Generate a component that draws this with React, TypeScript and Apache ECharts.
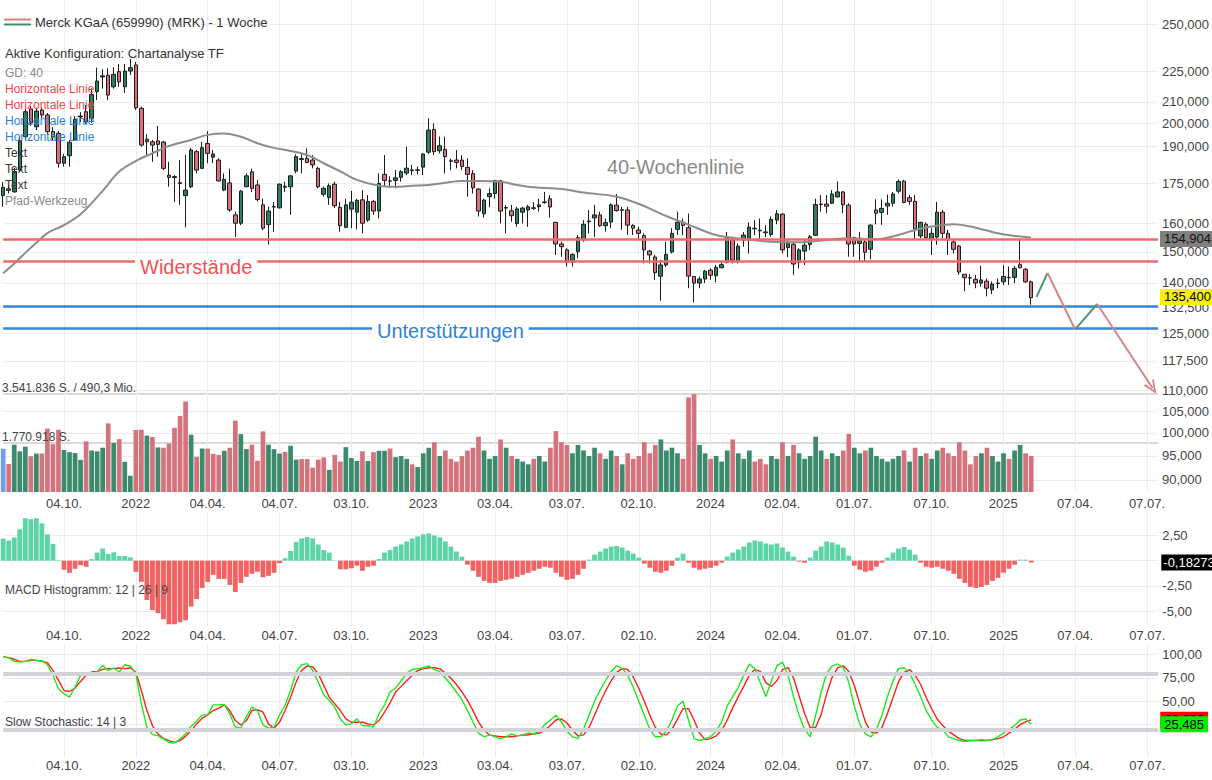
import React, { useEffect, useRef } from 'react';
import * as echarts from 'echarts';

// ---------- DATA ----------
const FIRST_WEEK_UTC = Date.UTC(2021, 6, 19); // Monday of the first weekly candle
const WEEK_COUNT = 210; // candles + empty weeks to the right edge

const TICK_LABELS: Record<string, string> = {
  '2021-10-04': '04.10.', '2022-01-03': '2022', '2022-04-04': '04.04.', '2022-07-04': '04.07.',
  '2022-10-03': '03.10.', '2023-01-02': '2023', '2023-04-03': '03.04.', '2023-07-03': '03.07.',
  '2023-10-02': '02.10.', '2024-01-01': '2024', '2024-04-01': '02.04.', '2024-07-01': '01.07.',
  '2024-10-07': '07.10.', '2025-01-06': '2025', '2025-04-07': '07.04.', '2025-07-07': '07.07.',
};

const PRICE_TICKS = [90, 95, 100, 105, 110, 117.5, 125, 132.5, 140, 150, 160, 175, 190, 200, 210, 225, 250];
const MACD_GRID = [-5, -2.5, 0, 2.5];
const MACD_LABELS = [-5, -2.5, 2.5];
const STOCH_GRID = [25, 50, 75, 100];
const STOCH_LABELS = [50, 75, 100];
const STOCH_BANDS = [80, 20];

// weekly candles: [open, close, low, high]
const OHLC: number[][] = [
  [170.2,173.4,166.0,175.4],[172.8,172.2,171.0,174.3],[171.6,179.6,171.4,181.1],[180.2,192.4,179.5,194.2],
  [194.2,205.4,192.8,206.7],[206.7,200.3,199.0,208.0],[198.6,205.7,197.1,207.2],[206.2,203.9,202.5,207.5],
  [203.9,196.4,195.0,204.8],[196.5,194.0,192.4,198.4],[195.7,183.0,181.2,196.7],[183.0,185.7,181.6,186.8],
  [186.1,191.8,181.6,192.8],[192.8,201.9,192.4,203.4],[203.0,203.4,200.7,205.2],[205.4,200.8,199.8,208.5],
  [202.4,213.5,200.3,216.5],[214.8,220.0,210.9,226.7],[222.0,222.6,216.3,225.9],[222.9,213.2,210.9,226.4],
  [217.2,223.3,216.3,226.9],[224.7,219.6,217.3,228.6],[217.2,225.0,214.2,228.6],[225.0,226.7,223.0,231.1],
  [228.1,207.2,206.2,229.6],[207.0,190.6,189.9,207.7],[192.0,193.1,186.4,195.3],[192.0,190.6,183.6,192.8],
  [192.4,190.9,185.7,198.9],[191.9,180.9,180.2,192.4],[178.2,177.3,173.6,183.6],[177.6,177.2,167.8,178.2],
  [175.2,174.9,166.7,184.3],[170.2,172.3,158.5,186.4],[173.6,188.5,173.1,189.4],[187.8,180.2,178.9,188.5],
  [180.9,189.5,180.9,192.0],[191.3,187.1,183.0,196.6],[185.5,186.8,183.0,188.5],[184.3,175.9,175.6,185.0],
  [172.3,176.5,171.9,178.9],[175.1,164.8,164.2,180.8],[163.0,160.0,155.1,164.2],[160.0,171.9,159.3,172.3],
  [173.6,177.9,173.6,178.9],[179.5,173.0,171.6,180.8],[174.3,168.7,168.0,176.3],[166.7,158.2,157.5,169.1],
  [159.5,164.4,152.5,166.0],[165.9,166.0,157.0,167.8],[165.6,174.6,165.4,174.9],[173.4,173.8,171.6,175.6],
  [173.6,177.9,163.0,178.2],[179.8,185.7,178.9,186.7],[184.5,184.9,178.9,187.1],[185.0,183.3,183.0,189.2],
  [184.3,182.3,180.9,186.4],[180.9,173.6,173.0,181.6],[170.7,173.0,169.8,173.6],[169.5,174.0,166.7,174.9],
  [174.6,166.4,165.5,175.6],[165.8,159.1,157.0,167.8],[158.5,166.7,158.2,169.0],[165.1,167.7,158.2,172.0],
  [164.0,168.4,157.8,169.0],[168.6,160.0,156.4,172.3],[161.1,168.0,160.5,170.4],[168.0,164.4,163.0,168.5],
  [164.4,174.9,161.7,178.9],[178.5,176.1,173.6,186.4],[175.8,175.9,173.2,177.7],[176.1,177.1,173.0,180.2],
  [177.3,179.6,175.6,180.2],[179.0,181.0,178.2,189.9],[180.0,180.3,178.2,182.3],[180.1,180.3,178.5,181.6],
  [181.4,186.8,178.2,187.2],[187.6,197.1,186.8,202.4],[197.4,187.8,186.4,200.1],[188.2,190.3,187.1,194.2],
  [188.8,185.7,178.9,194.2],[183.8,184.0,180.2,185.0],[184.3,183.3,180.9,188.5],[184.3,181.7,180.2,186.4],
  [181.3,178.5,169.8,185.0],[178.8,173.2,171.0,180.2],[172.7,164.4,162.4,173.0],[163.4,168.5,162.0,169.0],
  [169.8,171.0,165.8,173.0],[171.0,176.0,169.0,176.3],[175.9,164.4,159.9,176.3],[165.5,165.7,156.4,166.7],
  [164.5,162.7,160.5,166.7],[159.9,165.2,158.7,166.0],[164.0,165.5,159.9,166.0],[164.8,166.0,158.7,166.7],
  [165.4,165.6,164.8,167.8],[166.0,166.7,164.2,169.0],[167.6,167.8,167.1,171.6],[169.0,165.9,162.0,170.4],
  [160.3,152.7,149.0,160.5],[152.7,151.8,148.4,153.5],[150.7,146.6,145.2,151.3],[146.6,149.2,145.2,149.5],
  [150.1,154.9,147.9,155.8],[154.1,159.6,153.5,161.1],[160.5,160.8,156.4,164.8],[161.9,163.0,155.2,166.7],
  [163.0,159.1,158.7,164.2],[159.1,160.2,157.0,161.7],[160.4,166.7,158.2,167.3],[166.6,164.6,164.2,170.8],
  [164.7,164.9,157.6,166.0],[164.8,159.3,155.8,166.0],[159.2,158.2,155.8,159.6],[157.6,156.4,154.1,158.7],
  [155.6,150.7,146.2,156.4],[150.3,149.0,146.2,150.7],[148.3,143.2,140.9,149.0],[142.1,145.7,134.5,147.3],
  [145.7,149.2,145.0,153.5],[150.0,156.4,149.5,158.2],[157.8,160.3,155.8,164.2],[160.3,159.2,155.8,161.7],
  [158.4,142.1,138.3,163.5],[142.0,139.9,134.0,142.0],[139.9,141.2,138.3,142.0],[141.2,143.7,139.9,144.1],
  [144.0,142.4,140.9,144.6],[142.2,144.9,140.2,145.7],[144.8,145.8,144.6,146.8],[146.6,154.9,146.2,156.9],
  [154.1,147.3,146.2,155.2],[146.8,152.0,146.2,152.9],[154.1,155.8,151.8,156.9],[154.5,158.6,149.5,160.3],
  [158.0,158.2,155.8,161.1],[157.3,157.5,154.1,161.7],[156.6,156.9,155.1,159.3],[156.0,161.4,155.2,162.4],
  [161.1,163.4,159.6,164.8],[163.3,150.7,149.5,163.6],[151.5,153.2,148.3,154.1],[152.6,146.0,142.5,153.2],
  [146.5,150.7,144.6,151.3],[150.3,152.3,145.7,154.1],[152.5,155.2,150.7,155.8],[155.7,166.8,155.5,169.0],
  [166.8,167.0,164.2,170.4],[167.0,166.2,163.6,170.4],[167.3,170.8,167.0,172.3],[169.7,171.6,169.5,175.7],
  [171.6,166.7,163.6,172.0],[166.6,152.7,148.4,167.3],[154.9,152.7,148.4,155.2],[152.9,154.3,146.8,156.9],
  [153.4,149.9,146.8,154.1],[150.9,159.3,147.6,159.6],[164.8,163.6,159.6,168.8],[163.9,165.4,159.4,168.8],
  [166.3,167.3,163.0,170.6],[167.3,170.8,166.0,171.6],[171.9,175.7,171.0,176.5],[175.8,167.6,167.3,176.3],
  [169.4,168.0,166.7,170.4],[168.0,157.9,154.1,170.4],[155.5,160.3,154.7,160.5],[159.6,154.9,154.1,160.3],
  [154.4,156.4,149.0,158.2],[155.1,164.0,152.4,167.8],[164.0,156.4,154.7,164.8],[156.4,154.1,149.0,157.6],
  [153.4,150.9,149.5,154.4],[152.0,143.4,142.5,152.4],[142.7,141.6,137.3,142.7],[141.6,141.5,139.3,142.7],
  [141.1,139.9,138.3,142.5],[139.9,140.9,138.8,145.5],[140.5,138.3,135.8,141.4],[137.8,139.6,136.5,140.4],
  [139.8,139.9,138.3,141.4],[140.3,142.0,139.3,145.7],[141.6,141.7,139.3,145.2],[141.7,144.6,139.9,145.4],
  [145.8,144.8,144.6,154.3],[144.3,140.3,139.9,144.7],[140.3,135.4,133.3,140.7],
];

// 40-week moving average, read at [week index, value]
const MA40: number[][] = [
  [0,143.0],[2,146.2],[4,149.7],[6,153.1],[8,156.5],[11,159.3],[14,163.2],[18,172.0],[21,179.6],
  [24,183.9],[27,187.1],[30,190.2],[34,192.8],[37,195.0],[40,195.6],[43,194.2],[46,191.4],[49,189.4],
  [52,188.1],[55,186.4],[58,183.0],[61,179.7],[64,176.3],[68,174.0],[71,173.6],[74,174.0],[77,174.3],
  [80,175.2],[83,175.9],[86,175.9],[90,175.6],[93,174.3],[96,173.4],[101,172.7],[105,171.4],[111,169.8],
  [115,167.1],[120,162.6],[124,159.5],[129,155.8],[134,154.4],[139,153.5],[144,153.3],[149,154.1],
  [153,154.7],[158,154.4],[162,155.8],[165,157.6],[168,158.8],[172,159.6],[176,158.4],[180,156.4],
  [183,155.5],[186,154.904],
];

// weekly volume, million shares
const VOLUME = [
  1.56,1.01,1.71,1.47,1.64,1.29,1.39,1.39,2.29,1.73, 2.25,1.52,1.44,1.41,1.16,1.83,1.50,1.47,1.60,2.48,
  1.77,1.91,1.09,0.59,2.24,2.25,2.04,1.99,1.61,1.60, 1.75,2.32,2.75,3.27,2.07,1.27,1.57,1.57,1.38,1.34,
  1.49,1.60,2.58,2.09,1.55,1.71,1.13,2.19,1.71,1.55, 1.39,1.45,1.67,1.17,1.19,1.19,0.88,1.17,1.25,0.80,
  1.34,1.10,1.62,1.23,1.12,1.47,1.12,1.44,1.49,1.49, 1.57,1.26,1.3,1.2,1.0,0.9,1.4,1.6,1.8,1.3,
  1.5,1.2,1.1,1.3,1.5,1.6,2.0,1.5,1.2,1.3, 1.9,1.6,1.3,1.2,1.1,1.0,1.2,1.3,1.1,1.6,
  2.2,1.8,1.7,1.4,1.7,1.5,1.3,1.6,1.4,1.2, 1.5,1.3,1.0,1.4,1.2,1.3,1.8,1.4,1.7,1.9,
  1.5,1.6,1.4,1.2,3.42,3.541836,1.7,1.4,1.2,1.3, 1.1,1.5,1.9,1.4,1.2,1.5,1.1,1.2,1.0,1.3,
  1.2,1.8,1.3,1.7,1.4,1.2,1.3,2.0,1.5,1.2, 1.4,1.3,1.5,2.1,1.6,1.4,1.5,1.6,1.3,1.2,
  1.1,1.2,1.3,1.5,1.1,1.6,1.3,1.4,1.2,1.5, 1.6,1.4,1.3,1.8,1.5,1.0,1.3,1.4,1.6,1.3,
  1.1,1.4,1.2,1.5,1.7,1.4,1.3,
];
const VOLUME_MAX = 3.541836;

const MACD_HIST = [
  2.2,2.0,2.3,3.1,4.2,4.1,4.2,3.7,2.6,1.65, 0.05,-0.9,-1.2,-0.8,-0.45,-0.6,0.15,0.8,1.2,0.66,
  0.83,0.47,0.47,0.34,-1.1,-2.1,-3.9,-4.9,-5.2,-5.8, -6.3,-6.3,-6.1,-5.9,-4.55,-3.8,-2.7,-2.1,-1.4,-1.8,
  -1.8,-2.4,-3.1,-2.2,-1.6,-1.3,-1.1,-1.65,-1.5,-1.2, -0.25,0.24,0.96,1.85,2.2,2.35,2.2,1.6,1.06,0.8,
  0.02,-0.85,-0.85,-0.75,-0.5,-1.0,-0.6,-0.5,0.17,0.8, 1.06,1.4,1.6,1.9,2.2,2.4,2.6,2.7,2.5,2.3,
  1.9,1.4,0.9,0.4,-0.4,-1.0,-1.6,-2.0,-2.2,-2.2, -2.0,-1.9,-1.8,-1.6,-1.4,-1.2,-1.0,-0.8,-0.6,-0.7,
  -1.2,-1.6,-1.9,-1.8,-1.4,-0.8,0.1,0.6,0.9,1.2, 1.4,1.45,1.3,1.0,0.7,0.3,-0.3,-0.7,-1.1,-1.2,
  -1.0,-0.5,0.3,0.7,-0.2,-0.7,-0.9,-0.8,-0.7,-0.5, -0.2,0.4,0.8,1.1,1.4,1.8,2.0,1.9,1.7,1.6,
  1.7,1.3,0.9,0.4,-0.1,-0.2,0.3,1.0,1.4,1.9, 1.8,1.6,1.3,0.5,-0.5,-0.9,-1.1,-1.0,-0.6,-0.2,
  0.3,0.8,1.2,1.35,1.1,0.6,-0.2,-0.6,-0.7,-0.6, -0.8,-1.0,-1.3,-1.8,-2.2,-2.6,-2.7,-2.6,-2.4,-2.0,
  -1.7,-1.2,-0.8,-0.4,0.1,0.1,-0.18273,
];

const STOCH_K = [
  97.5,96.8,92.8,92.1,92.8,95.0,93.5,93.5,89.2,77.8, 63.4,58.0,54.5,65.3,77.8,79.6,80.3,81.4,88.5,83.1,
  85.7,81.4,89.2,87.8,79.6,47.3,22.3,14.3,13.2,9.7, 6.1,5.4,9.7,15.0,23.3,28.7,35.5,35.5,46.2,46.2,
  46.6,36.6,22.3,21.2,33.7,43.8,40.1,24.7,21.2,22.3, 35.5,45.5,61.6,81.4,89.2,90.3,83.1,70.6,57.0,50.9,
  43.8,31.2,24.7,25.8,31.2,24.0,24.0,22.3,36.6,46.2, 59.9,64.2,72,80,84,85,86,88,84,82,
  75,68,60,52,40,28,16,12,14,12, 10,12,15,13,14,16,15,18,25,30,
  35,28,18,12,10,20,35,50,62,72, 82,88,85,78,65,50,35,20,12,12,
  18,30,45,50,30,10,8,10,12,18, 28,45,55,65,78,90,85,70,55,72,
  88,92,78,55,35,20,12,35,60,80, 88,90,86,70,45,25,15,12,20,35,
  55,72,85,86,80,68,55,40,30,22, 20,12,10,8,7,8,8,9,8,9,
  12,16,20,24,30,31,25.485,
];

const STOCH_D = [
  97.5,96.8,95.0,92.8,92.8,93.9,93.9,92.8,91.4,83.1, 72.4,61.6,60.5,64.2,71.3,77.8,81.4,82.1,84.2,85.0,
  85.0,85.7,85.0,85.7,81.4,61.6,40.1,24.0,15.0,10.4, 7.9,6.1,7.9,12.5,18.6,25.8,31.9,35.5,40.1,42.6,
  46.2,40.1,29.4,24.7,29.4,40.1,41.1,38.3,25.8,21.2, 27.6,40.1,54.4,70.6,83.1,87.8,86.7,79.6,67.1,54.4,
  47.3,40.1,31.2,27.6,27.6,27.6,25.8,24.7,29.4,38.3, 48.4,59.9,66,72,78,83,85,86,86,85,
  80,75,68,60,51,40,28,19,14,13, 12,12,12,13,14,14,15,16,19,24,
  30,31,27,19,13,14,22,35,49,61, 72,81,85,84,76,64,50,35,22,15,
  14,20,31,42,42,30,16,9,10,13, 19,30,43,55,66,78,84,82,70,66,
  72,84,86,75,56,37,22,22,36,58, 76,86,88,82,67,47,28,17,16,22,
  37,54,71,81,84,78,68,54,42,31, 24,18,14,10,8,8,8,8,8,9,
  10,12,16,20,25,28,30.2,
];

// drawn horizontal lines and the path drawing
const RESISTANCE = [155.0, 146.4];
const SUPPORT = [133.5, 126.1];
const PATH_POINTS: [string, number][] = [
  ['2025-02-17', 135.6], ['2025-03-03', 143.1], ['2025-04-07', 126.1], ['2025-05-05', 133.5], ['2025-07-14', 110.6],
];
const PATH_COLORS = ['#4c9a7b', '#d8848b', '#4c9a7b', '#d8848b'];

// ---------- HELPERS ----------
const FONT = "'Liberation Sans', Arial, Helvetica, sans-serif";
const ln = Math.log;
const comma = (v: number, d: number) => v.toFixed(d).replace('.', ',');
const dots = (n: number) => String(Math.round(n)).replace(/\B(?=(\d{3})+(?!\d))/g, '.');
const HIDDEN = { color: 'rgba(0,0,0,0)', width: 0, type: 'solid' };

const WEEKS: string[] = Array.from({ length: WEEK_COUNT }, (_, i) =>
  new Date(FIRST_WEEK_UTC + i * 7 * 86400000).toISOString().slice(0, 10));

const GRID_LEFT = 3.2;
const GRID_RIGHT = 53.7;
const PX_PER_LN = 446.3; // price pane: pixels per unit of ln(price)
const LN_TOP = ln(250) + 24 / PX_PER_LN;
const LN_BOTTOM = LN_TOP - 492 / PX_PER_LN;

function buildOption(): any {
  const isTick = (_i: number, v: string) => !!TICK_LABELS[v];
  const xAxis = (gridIndex: number, show: boolean, margin: number) => ({
    type: 'category', gridIndex, data: WEEKS, boundaryGap: false,
    axisLine: { show: false }, axisTick: { show: false },
    axisLabel: {
      show, interval: isTick, formatter: (v: string) => TICK_LABELS[v] || '',
      color: '#444', fontSize: 13, fontFamily: FONT, margin,
    },
    splitLine: { show, interval: isTick, lineStyle: { color: '#ececec', width: 1 } },
  });
  const yLabel = (custom: number[], fmt: (v: number) => string) => ({
    customValues: custom, formatter: fmt, color: '#444', fontSize: 13, fontFamily: FONT, margin: 4,
  });
  const boxLabel = (bg: string, color: string, txt: string, distance = 2) => ({
    show: true, position: 'end', distance, formatter: () => txt,
    backgroundColor: bg, color, padding: [2, 4, 1, 4], fontSize: 13, fontFamily: FONT,
  });

  const priceLns = PRICE_TICKS.map(ln);
  const lastClose = OHLC[OHLC.length - 1][1];
  const lastMa = MA40[MA40.length - 1][1];
  const lastMacd = MACD_HIST[MACD_HIST.length - 1];
  const lastK = STOCH_K[STOCH_K.length - 1];
  const lastD = STOCH_D[STOCH_D.length - 1];
  const maData: (number | null)[] = WEEKS.map(() => null);
  MA40.forEach(([i, v]) => { maData[i] = ln(v); });

  const chevron = 'path://M5,0 L10,11 L8.4,11 L5,3.6 L1.6,11 L0,11 Z';
  const pathLines = PATH_POINTS.slice(1).map((pt, j) => {
    const style = { color: PATH_COLORS[j], width: 2, type: 'solid' };
    return [
      { coord: [PATH_POINTS[j][0], ln(PATH_POINTS[j][1])], symbol: 'none', lineStyle: style },
      { coord: [pt[0], ln(pt[1])], symbol: j === PATH_POINTS.length - 2 ? chevron : 'none', symbolSize: [12, 14], lineStyle: style },
    ];
  });

  const text = (x: number, y: number, t: string, size: number, fill: string, extra: any = {}) => ({
    type: 'text', x, y, z: 100,
    style: { text: t, fontSize: size, fontFamily: FONT, fill, verticalAlign: 'middle', ...extra },
  });

  return {
    animation: false,
    backgroundColor: '#ffffff',
    grid: [
      { left: GRID_LEFT, right: GRID_RIGHT, top: 0, height: 492 },
      { left: GRID_LEFT, right: GRID_RIGHT, top: 394, height: 98 },
      { left: GRID_LEFT, right: GRID_RIGHT, top: 512, height: 114 },
      { left: GRID_LEFT, right: GRID_RIGHT, top: 645, height: 112 },
    ],
    xAxis: [xAxis(0, true, 5), xAxis(1, false, 0), xAxis(2, true, 3), xAxis(3, true, 2)],
    yAxis: [
      {
        type: 'value', gridIndex: 0, position: 'right', min: LN_BOTTOM, max: LN_TOP,
        axisLine: { show: false }, axisTick: { show: false, customValues: priceLns },
        axisLabel: yLabel(priceLns, (v) => comma(Math.exp(v), 3)),
        splitLine: { show: true, lineStyle: { color: '#ececec' } },
      },
      {
        type: 'value', gridIndex: 1, position: 'right', min: 0, max: VOLUME_MAX,
        axisLine: { show: false }, axisTick: { show: false, customValues: [VOLUME_MAX / 2, VOLUME_MAX] },
        axisLabel: { show: false },
        splitLine: { show: true, lineStyle: { color: '#dadada', width: 2 } },
      },
      {
        type: 'value', gridIndex: 2, position: 'right', min: -6.47, max: 4.82,
        axisLine: { show: false }, axisTick: { show: false, customValues: MACD_GRID },
        axisLabel: yLabel(MACD_LABELS, (v) => comma(v, 2)),
        splitLine: { show: true, lineStyle: { color: '#ececec' } },
      },
      {
        type: 'value', gridIndex: 3, position: 'right', min: -9.64, max: 110.3,
        axisLine: { show: false }, axisTick: { show: false, customValues: STOCH_GRID },
        axisLabel: yLabel(STOCH_LABELS, (v) => comma(v, 2)),
        splitLine: { show: true, lineStyle: { color: '#ececec' } },
      },
    ],
    series: [
      {
        type: 'candlestick', xAxisIndex: 0, yAxisIndex: 0, clip: false, barWidth: 4,
        data: OHLC.map(([o, c, l, h]) => [ln(o), ln(c), ln(l), ln(h)]),
        itemStyle: { color: '#2f7d5c', color0: '#d6717b', borderColor: '#1c1c1c', borderColor0: '#1c1c1c', borderWidth: 1 },
        markLine: {
          silent: true, symbol: 'none', label: { show: false },
          data: [
            ...RESISTANCE.map((p) => ({ yAxis: ln(p), lineStyle: { color: '#f16a6a', width: 2.5, type: 'solid' } })),
            ...SUPPORT.map((p) => ({ yAxis: ln(p), lineStyle: { color: '#3486d6', width: 2.5, type: 'solid' } })),
            ...pathLines,
          ],
        },
      },
      {
        type: 'line', xAxisIndex: 0, yAxisIndex: 0, data: maData, connectNulls: true, smooth: 0.35,
        symbol: 'none', lineStyle: { color: '#8c8c8c', width: 2 },
        markLine: {
          silent: true, symbol: 'none',
          data: [
            { yAxis: ln(lastMa), lineStyle: HIDDEN, label: boxLabel('#7f7f7f', '#111', comma(lastMa, 3)) },
            { yAxis: ln(lastClose), lineStyle: HIDDEN, label: boxLabel('#f7f000', '#000', comma(lastClose, 3)) },
          ],
        },
      },
      {
        type: 'bar', xAxisIndex: 1, yAxisIndex: 1, clip: false, barWidth: 4.7,
        data: VOLUME.map((v, i) => ({
          value: v,
          itemStyle: { color: i === 0 ? '#6f9fe6' : OHLC[i][1] >= OHLC[i - 1][1] ? '#3a8a6b' : '#d5737d' },
        })),
      },
      {
        type: 'bar', xAxisIndex: 2, yAxisIndex: 2, clip: false, barWidth: 4.8,
        data: MACD_HIST.map((v) => ({ value: v, itemStyle: { color: v >= 0 ? '#5dd3a8' : '#f36262' } })),
        markLine: {
          silent: true, symbol: 'none',
          data: [{ yAxis: lastMacd, lineStyle: HIDDEN, label: { ...boxLabel('#000', '#fff', comma(lastMacd, 5), 3), padding: [2, 2, 1, 2] } }],
        },
      },
      {
        type: 'line', xAxisIndex: 3, yAxisIndex: 3, data: [], z: 1,
        markLine: {
          silent: true, symbol: 'none', label: { show: false },
          data: STOCH_BANDS.map((v) => ({ yAxis: v, lineStyle: { color: '#d3d3d7', width: 4, type: 'solid' } })),
        },
      },
      {
        type: 'line', xAxisIndex: 3, yAxisIndex: 3, data: STOCH_D, symbol: 'none',
        lineStyle: { color: '#ff1f1f', width: 1.4 },
        markLine: {
          silent: true, symbol: 'none',
          data: [{ yAxis: lastD, lineStyle: HIDDEN, label: boxLabel('#ff0000', '#000', comma(lastD, 3)) }],
        },
      },
      {
        type: 'line', xAxisIndex: 3, yAxisIndex: 3, data: STOCH_K, symbol: 'none',
        lineStyle: { color: '#1ee81e', width: 1.4 },
        markLine: {
          silent: true, symbol: 'none',
          data: [{ yAxis: lastK, lineStyle: HIDDEN, label: boxLabel('#00ee00', '#000', comma(lastK, 3)) }],
        },
      },
    ],
    graphic: [
      { type: 'line', z: 100, shape: { x1: 4, y1: 19.5, x2: 31, y2: 19.5 }, style: { stroke: '#e07d7d', lineWidth: 2 } },
      { type: 'line', z: 100, shape: { x1: 4, y1: 24.5, x2: 31, y2: 24.5 }, style: { stroke: '#3e8e6e', lineWidth: 2 } },
      text(35, 22, 'Merck KGaA (659990) (MRK) - 1 Woche', 13, '#333'),
      text(5, 53, 'Aktive Konfiguration: Chartanalyse TF', 13, '#333'),
      text(5, 73, 'GD: 40', 12, '#8a8a8a'),
      text(5, 89, 'Horizontale Linie', 12, '#f04848'),
      text(5, 105, 'Horizontale Linie', 12, '#f04848'),
      text(5, 121, 'Horizontale Linie', 12, '#2c7fd6'),
      text(5, 137, 'Horizontale Linie', 12, '#2c7fd6'),
      text(5, 153, 'Text', 12, '#333'),
      text(5, 169, 'Text', 12, '#333'),
      text(5, 185, 'Text', 12, '#333'),
      text(5, 201, 'Pfad-Werkzeug', 12, '#8a8a8a'),
      text(607, 167, '40-Wochenlinie', 20, '#8a8a8a'),
      text(135, 267, 'Widerstände', 20, '#f05252', { backgroundColor: '#fff', padding: [1, 5] }),
      text(372, 331, 'Unterstützungen', 20, '#2f82d6', { backgroundColor: '#fff', padding: [1, 5] }),
      text(2, 388, `${dots(VOLUME_MAX * 1e6)} S. / 490,3 Mio.`, 12, '#444'),
      text(2, 437, `${dots(VOLUME_MAX * 1e6 / 2)} S.`, 12, '#444'),
      text(5, 590, 'MACD Histogramm: 12 | 26 | 9', 12, '#444'),
      text(5, 722, 'Slow Stochastic: 14 | 3', 12, '#444'),
    ],
  };
}

export default function App() {
  const ref = useRef<HTMLDivElement>(null);
  useEffect(() => {
    if (!ref.current) return;
    const chart = echarts.init(ref.current, undefined, { renderer: 'svg' });
    chart.setOption(buildOption());
    return () => chart.dispose();
  }, []);
  return <div ref={ref} style={{ position: 'absolute', left: 0, top: 0, width: 1212, height: 780, background: '#fff' }} />;
}
